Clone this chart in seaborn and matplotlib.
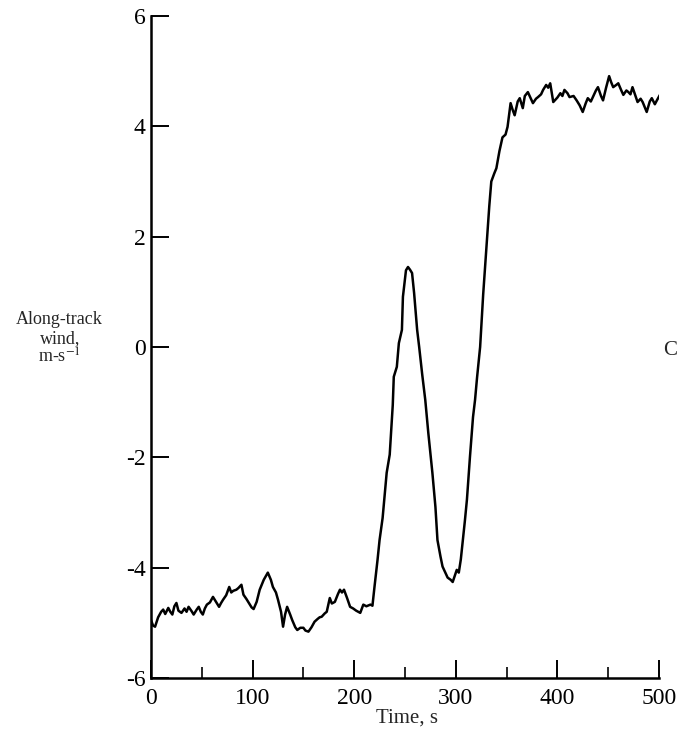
import pandas as pd
import numpy as np
import seaborn as sns
import matplotlib.pyplot as plt
from matplotlib.ticker import MultipleLocator

# along-track wind record
time_s = [
    0, 2, 4, 7, 10, 12, 14, 17, 19, 21,
    23, 25, 27, 30, 33, 35, 37, 40, 42, 45,
    47, 49, 51, 53, 55, 58, 61, 64, 67, 69,
    71, 74, 77, 79, 81, 84, 86, 89, 91, 94,
    97, 99, 101, 104, 107, 111, 115, 118, 120, 123,
    125, 128, 130, 132, 134, 137, 139, 142, 144, 147,
    150, 152, 155, 158, 161, 164, 166, 168, 171, 173,
    176, 178, 181, 184, 186, 188, 190, 193, 196, 199,
    202, 206, 209, 212, 216, 218, 220, 223, 225, 228,
    232, 235, 238, 239, 242, 244, 247, 248, 251, 253,
    255, 257, 259, 262, 264, 267, 270, 273, 277, 280,
    282, 285, 287, 290, 292, 295, 297, 299, 301, 303,
    305, 307, 309, 311, 314, 317, 319, 321, 324, 327,
    331, 333, 335, 338, 340, 343, 346, 349, 351, 354,
    356, 358, 361, 363, 366, 368, 371, 374, 376, 379,
    381, 384, 386, 389, 391, 393, 396, 400, 403, 405,
    407, 410, 412, 416, 419, 422, 425, 428, 430, 433,
    435, 438, 440, 443, 445, 448, 451, 453, 455, 458,
    460, 463, 465, 468, 470, 472, 474, 477, 479, 482,
    484, 486, 488, 491, 493, 496, 498, 501,
]
wind = [
    -4.95, -5.05, -5.07, -4.90, -4.80, -4.76, -4.84, -4.73, -4.80, -4.85,
    -4.70, -4.64, -4.78, -4.82, -4.74, -4.80, -4.71, -4.79, -4.85, -4.76,
    -4.71, -4.80, -4.85, -4.74, -4.67, -4.63, -4.53, -4.62, -4.71, -4.64,
    -4.58, -4.50, -4.35, -4.45, -4.42, -4.40, -4.37, -4.31, -4.49, -4.57,
    -4.66, -4.72, -4.75, -4.62, -4.40, -4.22, -4.09, -4.22, -4.35, -4.45,
    -4.58, -4.80, -5.07, -4.85, -4.71, -4.85, -4.95, -5.08, -5.13, -5.09,
    -5.09, -5.14, -5.16, -5.08, -4.98, -4.93, -4.90, -4.89, -4.83, -4.80,
    -4.55, -4.65, -4.62, -4.48, -4.40, -4.45, -4.40, -4.55, -4.71, -4.74,
    -4.78, -4.82, -4.67, -4.70, -4.67, -4.69, -4.35, -3.86, -3.50, -3.10,
    -2.28, -1.95, -1.05, -0.54, -0.36, 0.07, 0.31, 0.91, 1.39, 1.45,
    1.40, 1.34, 0.98, 0.31, 0.00, -0.50, -0.96, -1.56, -2.28, -2.90,
    -3.50, -3.80, -3.98, -4.10, -4.18, -4.22, -4.26, -4.15, -4.04, -4.09,
    -3.85, -3.50, -3.15, -2.77, -1.99, -1.27, -0.96, -0.55, 0.00, 0.95,
    2.00, 2.55, 3.00, 3.15, 3.24, 3.55, 3.80, 3.85, 3.99, 4.42,
    4.30, 4.20, 4.45, 4.51, 4.33, 4.55, 4.62, 4.50, 4.42, 4.50,
    4.53, 4.58, 4.66, 4.75, 4.70, 4.78, 4.44, 4.52, 4.60, 4.55,
    4.66, 4.60, 4.53, 4.55, 4.47, 4.38, 4.26, 4.42, 4.51, 4.45,
    4.53, 4.65, 4.71, 4.55, 4.47, 4.70, 4.91, 4.80, 4.71, 4.75,
    4.78, 4.65, 4.57, 4.65, 4.62, 4.58, 4.71, 4.55, 4.44, 4.50,
    4.44, 4.35, 4.26, 4.45, 4.51, 4.40, 4.47, 4.57,
]
x_ticks = [0, 100, 200, 300, 400, 500]
y_ticks = [-6, -4, -2, 0, 2, 4, 6]

sns.set_style("ticks")
plt.rcParams['font.family'] = ['Liberation Serif', 'DejaVu Serif']
plt.rcParams['axes.unicode_minus'] = False
plt.rcParams['mathtext.fontset'] = 'stix'

df = pd.DataFrame({"time": time_s, "wind": wind})

fig = plt.figure(figsize=(6.79, 7.40), dpi=100)
ax = fig.add_axes([0.2224, 0.0838, 0.748, 0.8946])

sns.lineplot(data=df, x="time", y="wind", ax=ax, color="black",
             linewidth=1.8, estimator=None, sort=False)

ax.set_xlim(0, 500)
ax.set_ylim(-6, 6)
ax.set_xticks(x_ticks)
ax.set_yticks(y_ticks)
ax.xaxis.set_minor_locator(MultipleLocator(50))
ax.tick_params(axis="both", which="major", direction="in", length=13,
               width=1.4, labelsize=17, color="black", labelcolor="black")
ax.tick_params(axis="x", which="major", pad=7)
ax.tick_params(axis="y", which="major", pad=4)
ax.tick_params(axis="x", which="minor", direction="in", length=8, width=1.4)
ax.tick_params(axis="y", which="minor", left=False)

sns.despine(ax=ax)
for s in ["left", "bottom"]:
    ax.spines[s].set_linewidth(1.8)
    ax.spines[s].set_color("black")

ax.set_xlabel("")
ax.set_ylabel("")
fig.text(0.599, 0.030, "Time, s", ha="center", va="center", fontsize=15)
# y label: three stacked lines left of the axis
fig.text(0.088, 0.5685, "Along-track", ha="center", va="center", fontsize=13)
fig.text(0.088, 0.5430, "wind,", ha="center", va="center", fontsize=13)
fig.text(0.088, 0.5170, "m-s$^{-1}$", ha="center", va="center", fontsize=13)
fig.text(0.976, 0.527, "C", ha="left", va="center", fontsize=15)

fig.savefig("out.png", dpi=100)
